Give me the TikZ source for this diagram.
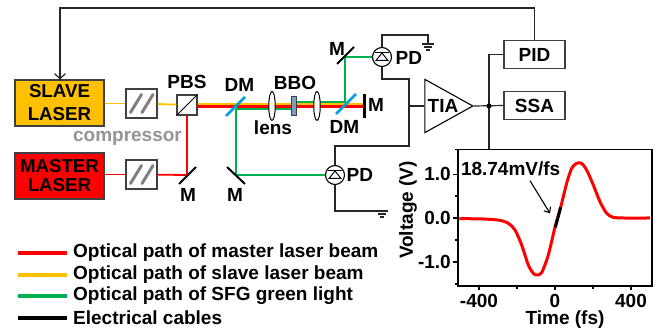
\documentclass[tikz,border=0pt]{standalone}
\usepackage{fontspec}
\setmainfont{Liberation Sans}
\usetikzlibrary{shapes.geometric,arrows.meta}
\definecolor{slaveyellow}{HTML}{FFC000}
\definecolor{sfggreen}{HTML}{00B050}
\definecolor{dmblue}{HTML}{00A0DC}
\definecolor{bbogray}{HTML}{7F9DB9}
\definecolor{boxline}{HTML}{404040}
\tikzset{
    lab/.style={font=\bfseries\fontsize{19}{19}\selectfont,inner sep=0pt},
    laser/.style={draw=boxline,line width=1.1pt,minimum width=89pt,minimum height=46pt,inner sep=0pt,align=center},
    elecbox/.style={draw=boxline,line width=1.1pt,minimum width=61pt,minimum height=28pt,inner sep=0pt,
        font=\bfseries\fontsize{19}{19}\selectfont},
    compbox/.style={draw=boxline,line width=1.1pt,minimum width=31pt,minimum height=29pt,inner sep=0pt},
    lens/.style={ellipse,draw,fill=white,line width=1pt,minimum width=6.5pt,minimum height=29pt,inner sep=0pt},
    detector/.style={circle,draw,line width=1.1pt,minimum size=19pt,inner sep=0pt},
    redbeam/.style={red,line width=2.2pt},
    yellowbeam/.style={slaveyellow,line width=2.2pt},
    greenbeam/.style={sfggreen,line width=1.9pt},
    cable/.style={black!85,line width=1.2pt},
    mirror/.style={black,line width=2pt},
    dichroic/.style={dmblue,line width=2.5pt},
    legline/.style={line width=3.2pt},
}
\begin{document}
\begin{tikzpicture}[x=1pt,y=-1pt]
    \useasboundingbox (0,0) rectangle (665,328);
    % boxes
    \node[laser,fill=slaveyellow,font=\bfseries\fontsize{18.7}{23}\selectfont] (slave) at (59.5,103) {SLAVE\\LASER};
    \node[laser,fill=red,font=\bfseries\fontsize{18.7}{19}\selectfont] (master) at (59.5,176) {MASTER\\LASER};
    \node[compbox] (comp1) at (141.5,103.5) {};
    \node[compbox] (comp2) at (141.5,174.5) {};
    \node[draw=boxline,line width=1.1pt,minimum size=20pt,inner sep=0pt] (pbs) at (187,105) {};
    \node[lab,text=black!42] (complab) at (127.5,138) {compressor};
    \node[elecbox] (pid) at (534.5,54.5) {PID};
    \node[elecbox] (ssa) at (534.5,105.5) {SSA};
    \node[draw,line width=1.1pt,isosceles triangle,isosceles triangle apex angle=58,minimum height=48pt,
        inner sep=0pt,anchor=apex] (tia) at (474,106) {};
    \node[lab] (tialab) at (443,106) {TIA};
    % junctions and corners
    \coordinate (redcorner) at (187,175);
    \coordinate (beamend) at (364,105);
    \coordinate (dmonein) at (236,109);
    \coordinate (greencorner) at (236,175);
    \coordinate (bboin) at (291,109);
    \coordinate (bboout) at (297,102);
    \coordinate (dmtwo) at (345,102);
    \coordinate (mtop) at (345,57);
    \node[detector] (pdtop) at (382,57) {};
    \node[detector] (pdbot) at (335,175) {};
    \coordinate (gnda) at (428,44);
    \coordinate (gndb) at (382,211);
    \coordinate (busmid) at (409,106);
    \coordinate (dot) at (489,106);
    \coordinate (feedback) at (60,80);
    % optical paths
    \draw[yellowbeam,line width=1.8pt] (slave.east |- comp1) -- (comp1);
    \draw[yellowbeam,line width=1.8pt] (comp1) -- (pbs);
    \draw[yellowbeam] (pbs.east |- 0,104) -- (beamend |- 0,104);
    \draw[redbeam] (pbs.east |- 0,106.5) -- (beamend |- 0,106.5);
    \draw[redbeam,line width=1.8pt] (master.east |- comp2) -- (comp2);
    \draw[redbeam,line width=1.8pt] (comp2) -- (redcorner) -- (pbs.south);
    \draw[greenbeam] (dmonein) -- (greencorner) -- (pdbot);
    \draw[greenbeam] (dmonein) -- (bboin);
    \draw[greenbeam] (bboout) -- (dmtwo) -- (mtop) -- (pdtop);
    % optics
    \node[lens] (lensa) at (272,106) {};
    \node[lens] (lensb) at (317,106) {};
    \node[draw=boxline,fill=bbogray,line width=0.7pt,minimum width=5.5pt,minimum height=19pt,inner sep=0pt] (bbo) at (294,106) {};
    \draw[mirror] (179,184) -- (196,167);
    \draw[mirror] (227,167) -- (245,184);
    \draw[mirror] (337,64) -- (354,47);
    \draw[mirror,line width=2.8pt] (364.5,94) -- (364.5,118);
    \draw[dichroic] (226,116) -- (245,97);
    \draw[dichroic] (336,114) -- (356,94);
    \draw[line width=1pt] (pbs.south west) -- (pbs.north east);
    \foreach \c in {comp1,comp2}{
        \draw[black!50,line width=3pt,line cap=round] (\c.center) ++(-11,9) -- ++(11,-18);
        \draw[black!50,line width=3pt,line cap=round] (\c.center) ++(0.5,9) -- ++(11,-18);
    }
    % photodiodes
    \foreach \p in {pdtop,pdbot}{
        \draw[line width=1pt] (\p.center) ++(-7,-4) -- ++(14,0);
        \draw[line width=1pt] (\p.center) ++(0,-4) -- ++(-6,7.5) -- ++(12,0) -- cycle;
    }
    % electrical cables
    \draw[cable] (pdtop.north) -- ++(0,-12) -| (gnda);
    \draw[cable] (pdtop.south) |- (busmid |- 0,79) -- (busmid |- 0,146) -| (pdbot.north);
    \draw[cable] (pdbot.south) |- (gndb);
    \draw[cable] (busmid) -- (tia.west |- busmid);
    \draw[cable] (tia.apex) -- (ssa.west);
    \draw[cable] (pid.west) -| (dot) -- (dot |- 0,149);
    \draw[cable] (pid.north) -- ++(0,-32) -| (feedback);
    \draw[cable,-{Straight Barb[length=5pt,width=11pt]}] (60,60) -- (slave.north -| feedback);
    \fill (dot) circle (2.5);
    \foreach \g in {gnda,gndb}{
        \draw[cable] (\g) ++(-6,0) -- ++(12,0);
        \draw[cable] (\g) ++(-4,3) -- ++(8,0);
        \draw[cable] (\g) ++(-2,6) -- ++(4,0);
    }
    % labels
    \node[lab] (pbslab) at (187,82) {PBS};
    \node[lab] (dmlab) at (239.5,85) {DM};
    \node[lab] (bbolab) at (295,83) {BBO};
    \node[lab] (lenslab) at (273,128) {lens};
    \node[lab] (dmlabb) at (344.5,127) {DM};
    \node[lab] (mlaba) at (188,195) {M};
    \node[lab] (mlabb) at (235,195) {M};
    \node[lab] (mlabc) at (337,49) {M};
    \node[lab] (mlabd) at (376,105) {M};
    \node[lab,anchor=west] (pdlaba) at (395.5,58) {PD};
    \node[lab,anchor=west] (pdlabb) at (346.5,175) {PD};
    % legend
    \foreach \y/\c/\t/\n in {253/red/Optical path of master laser beam/lega,
        275/slaveyellow/Optical path of slave laser beam/legb,
        296/sfggreen/Optical path of SFG green light/legc,
        318/black/Electrical cables/legd}{
        \node[lab,anchor=west] (\n) at (73,\y) {\t};
        \draw[legline,\c] (18,\y) -- ([xshift=-6pt]\n.west);
    }
    % plot
    \draw[line width=1.6pt] (458,149.5) rectangle (652,286);
    \foreach \y/\t in {174.3/1.0,218/0.0,262/-1.0}{
        \draw[line width=1.3pt] (458,\y) -- ++(-5,0);
        \node[lab,anchor=east] at (451,\y) {\t};
    }
    \foreach \y in {149.5,196,240,284}{
        \draw[line width=1.3pt] (458,\y) -- ++(-3,0);
    }
    \foreach \x/\t in {479/-400,555/0,631/400}{
        \draw[line width=1.3pt] (\x,286) -- ++(0,4);
        \node[lab] at (\x,300.5) {\t};
    }
    \foreach \x in {517,593}{
        \draw[line width=1.3pt] (\x,286) -- ++(0,3);
    }
    \node[lab] (xlab) at (565,319.5) {Time (fs)};
    \node[lab,rotate=90] (ylab) at (408,210) {Voltage (V)};
    \begin{scope}[shift={(400,140)},x=0.3333pt,y=-0.3333pt]
        \draw[red,line width=3pt,line join=round] plot[smooth,tension=0.5] coordinates {
            (178,236) (250,237) (300,241) (325,250) (345,270) (365,315) (385,375) (400,400) (410,405)
            (425,398) (445,345) (465,262) (482,202) (500,130) (515,85) (530,70) (545,70) (560,90)
            (580,135) (600,185) (620,220) (640,232) (670,234) (750,234)};
        \draw[black,line width=3pt] (466,262) -- (482,202);
        \node[lab] (slopelab) at (332,87) {18.74mV/fs};
        \draw[line width=1.1pt,-{Straight Barb[length=4.5pt,width=8pt]}] (390,122) -- (450,220);
    \end{scope}
\end{tikzpicture}
\end{document}
